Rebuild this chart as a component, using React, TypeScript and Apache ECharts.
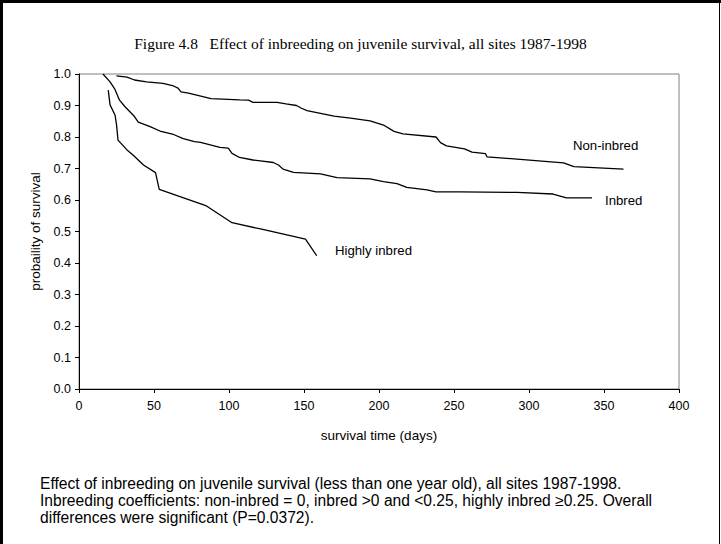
import React, { useEffect, useRef } from "react";
import * as echarts from "echarts";

const titleText = "Figure 4.8\u00a0\u00a0 Effect of inbreeding on juvenile survival, all sites 1987-1998";
const xAxisName = "survival time (days)";
const yAxisName = "probaility of survival";
const captionLines = [
  "Effect of inbreeding on juvenile survival (less than one year old), all sites 1987-1998.",
  "Inbreeding coefficients: non-inbred = 0, inbred >0 and <0.25, highly inbred \u22650.25. Overall",
  "differences were significant (P=0.0372).",
];

const nonInbredDays = [25, 32, 37, 45, 56, 63, 66, 68, 73, 88, 107, 113, 116, 132, 138, 145, 148, 152, 170, 181, 194, 203, 210, 216, 238, 241, 245, 257, 262, 271, 272, 292, 323, 330, 363];
const nonInbredProb = [0.994, 0.99, 0.981, 0.975, 0.97, 0.962, 0.955, 0.943, 0.939, 0.922, 0.918, 0.917, 0.91, 0.91, 0.905, 0.9, 0.892, 0.884, 0.866, 0.86, 0.851, 0.838, 0.818, 0.81, 0.8, 0.782, 0.772, 0.762, 0.752, 0.747, 0.737, 0.73, 0.718, 0.706, 0.698];

const inbredDays = [16, 20.7, 24, 27, 30.7, 37, 39.5, 47, 54, 63, 69.5, 77, 81, 94, 99.5, 102, 107, 116, 121, 129.5, 133, 136, 143, 161, 172, 194, 203, 212, 218.5, 232, 238, 254, 292, 316, 325, 342];
const inbredProb = [1.0, 0.975, 0.951, 0.917, 0.896, 0.865, 0.847, 0.834, 0.819, 0.808, 0.795, 0.785, 0.783, 0.767, 0.765, 0.748, 0.735, 0.727, 0.724, 0.719, 0.711, 0.698, 0.688, 0.683, 0.671, 0.667, 0.658, 0.652, 0.64, 0.632, 0.626, 0.626, 0.624, 0.619, 0.607, 0.607];

const highlyDays = [19.5, 20.7, 24, 25, 26, 32, 36, 43, 51, 53.5, 85, 102, 121, 151, 158.5];
const highlyProb = [0.949, 0.902, 0.87, 0.84, 0.79, 0.759, 0.743, 0.711, 0.687, 0.634, 0.581, 0.528, 0.508, 0.476, 0.423];

const seriesNames = ["Non-inbred", "Inbred", "Highly inbred"];

const zip = (xs: number[], ys: number[]) => xs.map((x, i) => [x, ys[i]]);

export default function App() {
  const ref = useRef<HTMLDivElement>(null);
  useEffect(() => {
    if (!ref.current) return;
    const chart = echarts.init(ref.current, null, { renderer: "svg" });
    const sans = "Liberation Sans, Arial";
    const tickFont = { fontFamily: sans, fontSize: 12.5, color: "#000" };
    const nameFont = { fontFamily: sans, fontSize: 13.5, color: "#000" };
    const lineStyle = { color: "#000", width: 1.3 };
    const mkSeries = (name: string, data: number[][]) => ({
      name,
      type: "line",
      data,
      showSymbol: false,
      symbol: "none",
      lineStyle,
      silent: true,
    });
    const seriesLabel = (text: string, x: number, y: number) => ({
      type: "text",
      x,
      y,
      style: { text, fontFamily: sans, fontSize: 13.2, fill: "#000", verticalAlign: "middle" },
    });
    chart.setOption({
      animation: false,
      backgroundColor: "#fff",
      grid: {
        left: 79,
        top: 74,
        width: 600,
        height: 315,
        show: true,
        borderColor: "#808080",
        borderWidth: 1,
        backgroundColor: "transparent",
      },
      xAxis: {
        type: "value",
        min: 0,
        max: 400,
        interval: 50,
        name: xAxisName,
        nameLocation: "middle",
        nameGap: 39,
        nameTextStyle: nameFont,
        axisLine: { show: true, lineStyle: { color: "#000", width: 1 } },
        axisTick: { show: true, length: 4, lineStyle: { color: "#000" } },
        axisLabel: { ...tickFont, margin: 10 },
        splitLine: { show: false },
      },
      yAxis: {
        type: "value",
        min: 0,
        max: 1,
        interval: 0.1,
        name: yAxisName,
        nameLocation: "middle",
        nameGap: 36,
        nameTextStyle: nameFont,
        axisLine: { show: true, lineStyle: { color: "#000", width: 1 } },
        axisTick: { show: true, length: 4, lineStyle: { color: "#000" } },
        axisLabel: { ...tickFont, margin: 8, formatter: (v: number) => v.toFixed(1) },
        splitLine: { show: false },
      },
      series: [
        mkSeries(seriesNames[0], zip(nonInbredDays, nonInbredProb)),
        mkSeries(seriesNames[1], zip(inbredDays, inbredProb)),
        mkSeries(seriesNames[2], zip(highlyDays, highlyProb)),
      ],
      graphic: [
        { type: "line", shape: { x1: 1.5, y1: 0, x2: 1.5, y2: 544 }, style: { stroke: "#000", lineWidth: 3 } },
        { type: "line", shape: { x1: 0, y1: 1.5, x2: 721, y2: 1.5 }, style: { stroke: "#000", lineWidth: 3 } },
        { type: "line", shape: { x1: 719.5, y1: 0, x2: 719.5, y2: 544 }, style: { stroke: "#000", lineWidth: 1 } },
        {
          type: "text",
          left: "center",
          top: 35,
          style: { text: titleText, fontFamily: "Liberation Serif, Times New Roman", fontSize: 15.5, fill: "#000" },
        },
        seriesLabel(seriesNames[0], 573, 145),
        seriesLabel(seriesNames[1], 605, 200),
        seriesLabel(seriesNames[2], 335, 250),
        {
          type: "text",
          x: 40,
          y: 475,
          style: {
            text: captionLines.join("\n"),
            fontFamily: sans,
            fontSize: 15.6,
            lineHeight: 17,
            fill: "#000",
          },
        },
      ],
    });
    return () => chart.dispose();
  }, []);
  return (
    <div
      ref={ref}
      style={{ position: "absolute", left: 0, top: 0, width: 721, height: 544 }}
    />
  );
}
